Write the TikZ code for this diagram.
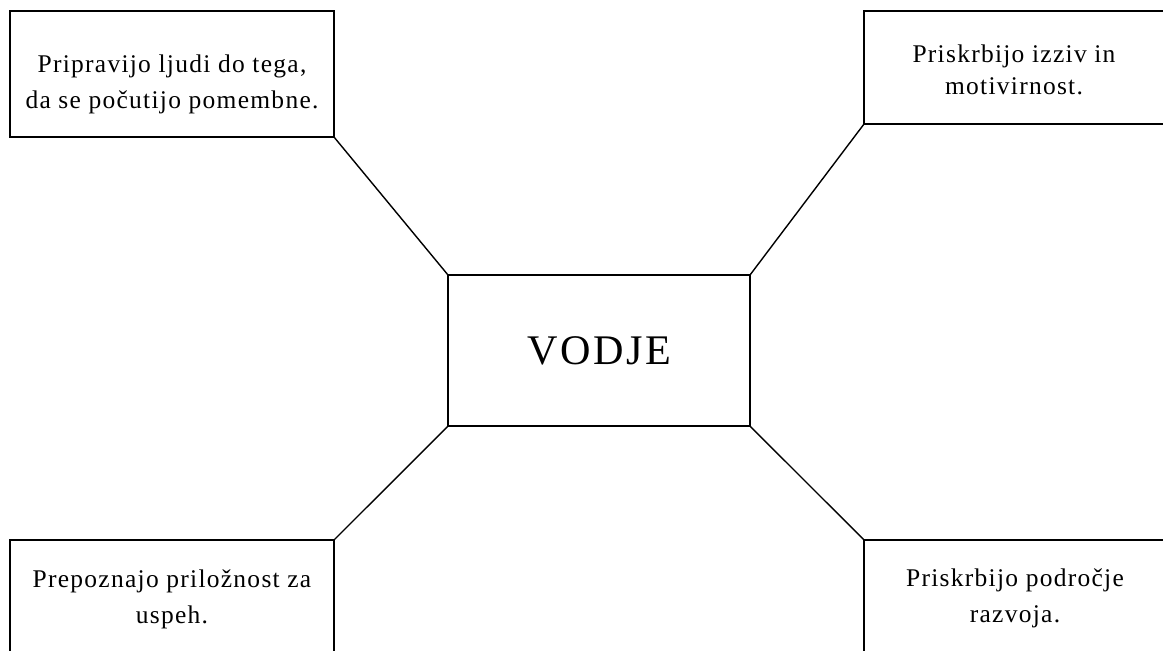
\documentclass[tikz,border=0pt]{standalone}
\usepackage{fontspec}
\setmainfont{Liberation Serif}

\begin{document}
\begin{tikzpicture}[x=0.02cm,y=-0.02cm,
    box/.style={draw,line width=1pt,inner sep=0pt,outer sep=0pt},
    txt/.style={align=center,inner sep=0pt,font=\fontsize{14.5}{20.5}\selectfont\addfontfeature{LetterSpace=5}},
    link/.style={line width=0.8pt}]
      \useasboundingbox (0,0) rectangle (1163,650);
      \clip (0,0) rectangle (1163,650);

      % boxes
      \node[box,minimum width=6.48cm,minimum height=2.52cm] (tl) at (172,74) {};
      \node[box,minimum width=6.04cm,minimum height=2.26cm] (tr) at (1015,67.5) {};
      \node[box,minimum width=6.04cm,minimum height=3.02cm] (c) at (599,350.5) {};
      \node[box,minimum width=6.48cm,minimum height=2.52cm] (bl) at (172,603) {};
      \node[box,minimum width=6.04cm,minimum height=2.26cm] (br) at (1015,596.5) {};

      % texts
      \node[txt] (tltxt) at (172,84) {Pripravijo ljudi do tega,\\da se počutijo pomembne.};
      \node[txt,font=\fontsize{14.5}{18}\selectfont\addfontfeature{LetterSpace=5}] (trtxt) at (1014,70) {Priskrbijo izziv in\\motivirnost.};
      \node[font=\fontsize{24}{28}\selectfont\addfontfeature{LetterSpace=6}] (ctxt) at (599,351) {VODJE};
      \node[txt] (bltxt) at (172,599) {Prepoznajo priložnost za\\uspeh.};
      \node[txt] (brtxt) at (1015,598) {Priskrbijo področje\\razvoja.};

      % links to the corners
      \draw[link] (tl.south east) -- (c.north west);
      \draw[link] (tr.south west) -- (c.north east);
      \draw[link] (bl.north east) -- (c.south west);
      \draw[link] (br.north west) -- (c.south east);
\end{tikzpicture}
\end{document}
